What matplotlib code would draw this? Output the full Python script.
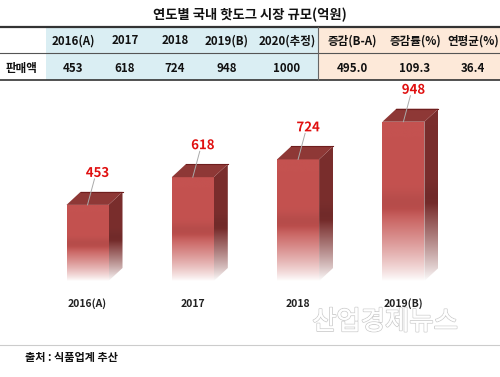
import numpy as np
import matplotlib
matplotlib.use("Agg")
import matplotlib.pyplot as plt
from matplotlib.patches import Polygon, Rectangle
from matplotlib.lines import Line2D
import matplotlib.patheffects as pe

plt.rcParams['font.family'] = ['Noto Sans CJK KR', 'DejaVu Sans']

# ---------------- data ----------------
title = "연도별 국내 핫도그 시장 규모(억원)"
table_years = ["2016(A)", "2017", "2018", "2019(B)", "2020(추정)"]
table_sales = ["453", "618", "724", "948", "1000"]
table_stat_names = ["증감(B-A)", "증감률(%)", "연평균(%)"]
table_stat_values = ["495.0", "109.3", "36.4"]
row_label = "판매액"
bar_categories = ["2016(A)", "2017", "2018", "2019(B)"]
bar_values = [453, 618, 724, 948]
source = "출처 : 식품업계 추산"
watermark = "산업경제뉴스"

W, H = 500, 377
fig = plt.figure(figsize=(W / 100, H / 100), dpi=100)
fig.patch.set_facecolor("white")

# overlay axes in pixel coordinates for table / text
ov = fig.add_axes([0, 0, 1, 1])
ov.set_xlim(0, W)
ov.set_ylim(H, 0)
ov.axis("off")

ov.text(250, 15, title, ha="center", va="center", fontsize=9.6, fontweight="bold", color="#111111")

# table backgrounds
blue = "#DAEEF3"
peach = "#FDE9D9"
ov.add_patch(Rectangle((46, 27), 272, 53, facecolor=blue, edgecolor="none", zorder=0))
ov.add_patch(Rectangle((318, 27), 182, 53, facecolor=peach, edgecolor="none", zorder=0))
ov.add_line(Line2D([0, 500], [27, 27], color="#333333", lw=1.6))
ov.add_line(Line2D([0, 500], [53, 53], color="#555555", lw=0.8))
ov.add_line(Line2D([0, 500], [80, 80], color="#333333", lw=1.2))
ov.add_line(Line2D([318, 318], [27, 80], color="#666666", lw=0.8))

year_x = [73, 125, 175, 227, 287]
stat_x = [352, 415, 473]
hdr_y, val_y = 41, 68
for x, t in zip(year_x, table_years):
    ov.text(x, hdr_y, t, ha="center", va="center", fontsize=8.3, fontweight="bold", color="#111111")
for x, t in zip(year_x, table_sales):
    ov.text(x, val_y, t, ha="center", va="center", fontsize=8.3, fontweight="bold", color="#111111")
for x, t in zip(stat_x, table_stat_names):
    ov.text(x, hdr_y, t, ha="center", va="center", fontsize=8.3, fontweight="bold", color="#111111")
for x, t in zip(stat_x, table_stat_values):
    ov.text(x, val_y, t, ha="center", va="center", fontsize=8.3, fontweight="bold", color="#111111")
ov.text(22, val_y, row_label, ha="center", va="center", fontsize=8.3, fontweight="bold", color="#111111")

# footer
ov.add_line(Line2D([0, 500], [345, 345], color="#cccccc", lw=0.8))
ov.text(25, 357, source, ha="left", va="center", fontsize=8, fontweight="bold", color="#111111")

# watermark
ov.text(385, 322, watermark, ha="center", va="center", fontsize=19, color="white", zorder=5,
        fontweight="light",
        path_effects=[pe.withStroke(linewidth=1.3, foreground="#cfcfcf"), pe.Normal()])

# ---------------- bar axes ----------------
base_px, top_px = 281, 80
px_per_unit = 0.168
ax = fig.add_axes([0, (H - base_px) / H, 1, (base_px - top_px) / H])
ax.set_facecolor("none")
ax.axis("off")
spacing = 105.3
x0_px = 87.5
ax.set_xlim(-x0_px / spacing, (W - x0_px) / spacing)
ymax = (base_px - top_px) / px_per_unit
ax.set_ylim(0, ymax)

xs = np.arange(len(bar_values))
bw = 42 / spacing
dx = 14 / spacing
dy = 13 / px_per_unit

front = np.array([0xC4, 0x52, 0x50]) / 255
side = np.array([0x7A, 0x2E, 0x2D]) / 255
topc = "#8E3836"


def gradient(base, n=256, fade=0.45):
    f = np.linspace(0, 1, n)  # 0 bottom, 1 top
    t = np.clip(f / fade, 0, 1) ** 0.85
    cols = (1 - t)[:, None] * np.ones(3) + t[:, None] * base
    # subtle darker band near transition
    band = 1 - 0.07 * np.exp(-((f - fade - 0.04) / 0.07) ** 2)
    cols = np.clip(cols * band[:, None], 0, 1)
    return cols[:, None, :]


bars = ax.bar(xs, bar_values, width=bw, color="none", edgecolor="none")
for b, v in zip(bars, bar_values):
    xl = b.get_x()
    xr = xl + b.get_width()
    im = ax.imshow(gradient(front), extent=[xl, xr, 0, v], origin="lower", aspect="auto",
                   interpolation="bilinear", zorder=2)
    im.set_clip_path(b)
    sp = Polygon([[xr, 0], [xr, v], [xr + dx, v + dy], [xr + dx, dy]], closed=True,
                 facecolor="none", edgecolor="none")
    ax.add_patch(sp)
    im2 = ax.imshow(gradient(side), extent=[xr, xr + dx, 0, v + dy], origin="lower",
                    aspect="auto", interpolation="bilinear", zorder=2)
    im2.set_clip_path(sp)
    tp = Polygon([[xl, v], [xr, v], [xr + dx, v + dy], [xl + dx, v + dy]], closed=True,
                 facecolor=topc, edgecolor="none", zorder=3)
    ax.add_patch(tp)
    ax.plot([xl + dx, xr + dx], [v + dy, v + dy], color="#6E1E1E", lw=0.8, zorder=4)

# value labels with leader lines
lab_dx = 10 / spacing
lab_dy = 32 / px_per_unit
for x, v in zip(xs, bar_values):
    ly = v + lab_dy
    ax.plot([x, x + 7 / spacing], [v, v + 26 / px_per_unit], color="#aaaaaa", lw=0.7, zorder=4)
    ax.text(x + lab_dx, ly, str(v), ha="center", va="center", fontsize=9.5, fontweight="bold",
            color="#E01010", zorder=5,
            path_effects=[pe.withStroke(linewidth=2, foreground="white")])

# category labels
for x, c in zip(xs, bar_categories):
    ax.text(x, -(304 - base_px) / px_per_unit, c, ha="center", va="center", fontsize=7.5,
            fontweight="bold", color="#222222", clip_on=False)

fig.savefig("out.png", dpi=100, facecolor="white")
